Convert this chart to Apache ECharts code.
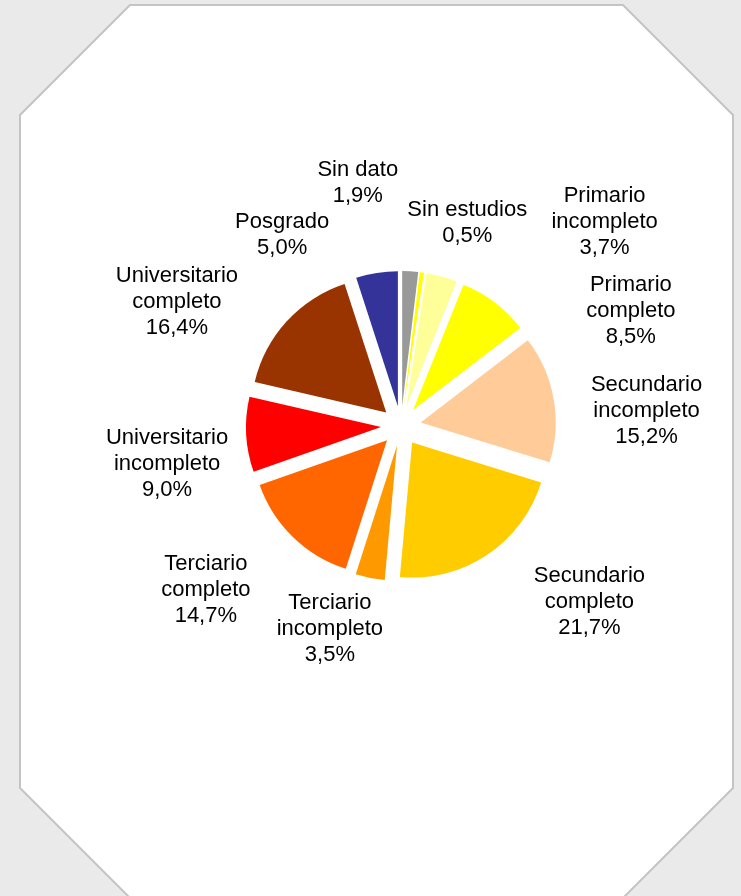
<!DOCTYPE html>
<html>
<head>
<meta charset="utf-8">
<script src="https://cdn.jsdelivr.net/npm/echarts@6/dist/echarts.min.js"></script>
<style>
    html, body { margin: 0; padding: 0; background: #eaeaea; }
    #pie_educ { width: 741px; height: 896px; }
</style>
</head>
<body>
<div id="pie_educ"></div>
<script>

// Chart data
// ------------------------------

var categories = ['Sin dato', 'Sin estudios', 'Primario incompleto', 'Primario completo',
    'Secundario incompleto', 'Secundario completo', 'Terciario incompleto', 'Terciario completo',
    'Universitario incompleto', 'Universitario completo', 'Posgrado'];
var percents = [1.9, 0.5, 3.7, 8.5, 15.2, 21.7, 3.5, 14.7, 9.0, 16.4, 5.0];
var colors = ['#999999', '#ffff00', '#ffff99', '#ffff00', '#ffcc99', '#ffcc00',
    '#ff9900', '#ff6600', '#ff0000', '#993300', '#333399'];

// Label placement (Excel moved the small-slice labels apart)
var labelTurn = [-13.5, 10.3, 29.7, 26.2, 6.7, -13.1, 7.8, 5.7, -6.1, -13.6, -22.9];
var labelDist = [247, 214, 288, 257, 246, 258, 215, 255, 237, 256, 225];

var pieCenter = [401, 426];


var EchartsPieEduc = function() {

    var _pieEduc = function() {
        if (typeof echarts == 'undefined') {
            console.warn('Warning - echarts.min.js is not loaded.');
            return;
        }

        var pie_element = document.getElementById('pie_educ');
        if (!pie_element) return;

        var pie_chart = echarts.init(pie_element);

        var total = percents.reduce(function(a, b) { return a + b; }, 0);

        // Octagon frame
        var graphics = [{
            type: 'polygon',
            z: -10,
            shape: {
                points: [[130, 5], [623, 5], [733, 115], [733, 788],
                         [623, 898], [130, 898], [20, 788], [20, 115]]
            },
            style: {
                fill: '#ffffff',
                stroke: '#c4c4c4',
                lineWidth: 2
            }
        }];

        // Data labels, placed around each slice's mid angle
        var cum = 0;
        percents.forEach(function(v, i) {
            var mid = (cum + v / 2) / total * 360;
            cum += v;
            var a = (mid + labelTurn[i]) * Math.PI / 180;
            var name = categories[i].replace(/ (completo|incompleto)$/, '\n$1');
            graphics.push({
                type: 'text',
                z: 10,
                x: pieCenter[0] + labelDist[i] * Math.sin(a),
                y: pieCenter[1] - labelDist[i] * Math.cos(a),
                style: {
                    text: name + '\n' + v.toFixed(1).replace('.', ',') + '%',
                    fill: '#000',
                    fontSize: 22,
                    fontFamily: '"Liberation Sans", Arial, sans-serif',
                    lineHeight: 26,
                    align: 'center',
                    verticalAlign: 'middle'
                }
            });
        });

        var seriesData = categories.map(function(name, i) {
            return {
                name: name,
                value: percents[i],
                selected: true,
                itemStyle: { color: colors[i] }
            };
        });

        pie_chart.setOption({
            animation: false,

            textStyle: {
                fontFamily: '"Liberation Sans", Arial, sans-serif'
            },

            graphic: graphics,

            series: [{
                type: 'pie',
                center: pieCenter,
                radius: 135,
                startAngle: 90,
                clockwise: true,
                selectedMode: 'multiple',
                selectedOffset: 20,
                itemStyle: { borderWidth: 0 },
                emphasis: { scale: false },
                label: { show: false },
                labelLine: { show: false },
                data: seriesData
            }]
        });
    };

    return {
        init: function() {
            _pieEduc();
        }
    };
}();

document.addEventListener('DOMContentLoaded', function() {
    EchartsPieEduc.init();
});
</script>
</body>
</html>
